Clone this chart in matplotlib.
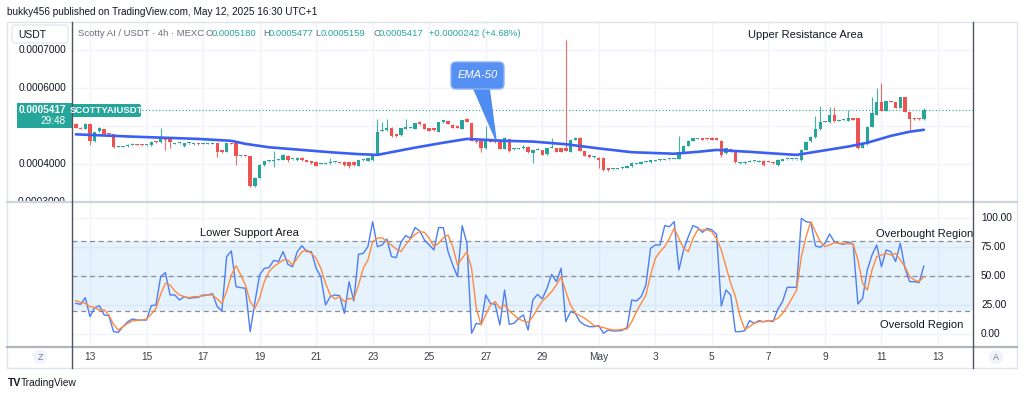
import numpy as np
import matplotlib
matplotlib.use("Agg")
import matplotlib.pyplot as plt
from matplotlib.patches import Rectangle, FancyBboxPatch, Polygon, Circle

plt.rcParams['font.family'] = ['Liberation Sans', 'DejaVu Sans']

W, H = 1024, 397

GREEN = '#26a69a'
RED = '#ef5350'
GRID = '#f0f3fa'
TEXT = '#131722'
MUTED = '#6a6d78'

# 4h candles of SCOTTYAI/USDT, index 0 = Apr 13 00:00
FIRST_CANDLE = -3

opens = [
    0.000506, 0.000496, 0.000492, 0.000506, 0.000461, 0.000486, 0.000492, 0.000480, 0.000478, 0.000445,
    0.000446, 0.000447, 0.000450, 0.000451, 0.000450, 0.000449, 0.000449, 0.000459, 0.000457, 0.000471,
    0.000466, 0.000453, 0.000454, 0.000447, 0.000454, 0.000452, 0.000455, 0.000453, 0.000453, 0.000453,
    0.000455, 0.000436, 0.000432, 0.000455, 0.000454, 0.000420, 0.000421, 0.000420, 0.000341, 0.000364,
    0.000397, 0.000408, 0.000408, 0.000411, 0.000411, 0.000422, 0.000412, 0.000410, 0.000417, 0.000410,
    0.000408, 0.000406, 0.000401, 0.000401, 0.000402, 0.000404, 0.000404, 0.000406, 0.000404, 0.000406,
    0.000396, 0.000410, 0.000408, 0.000410, 0.000424, 0.000488, 0.000489, 0.000496, 0.000478, 0.000475,
    0.000492, 0.000496, 0.000492, 0.000510, 0.000506, 0.000494, 0.000494, 0.000485, 0.000510, 0.000513,
    0.000503, 0.000501, 0.000492, 0.000518, 0.000508, 0.000461, 0.000461, 0.000441, 0.000462, 0.000461,
    0.000461, 0.000440, 0.000466, 0.000439, 0.000440, 0.000441, 0.000446, 0.000428, 0.000437, 0.000437,
    0.000425, 0.000442, 0.000441, 0.000441, 0.000441, 0.000432, 0.000464, 0.000469, 0.000434, 0.000424,
    0.000418, 0.000417, 0.000417, 0.000389, 0.000386, 0.000388, 0.000389, 0.000390, 0.000394, 0.000401,
    0.000401, 0.000405, 0.000404, 0.000409, 0.000410, 0.000411, 0.000412, 0.000413, 0.000413, 0.000432,
    0.000448, 0.000461, 0.000467, 0.000468, 0.000466, 0.000468, 0.000468, 0.000461, 0.000428, 0.000439,
    0.000435, 0.000402, 0.000402, 0.000405, 0.000407, 0.000405, 0.000409, 0.000406, 0.000403, 0.000397,
    0.000409, 0.000412, 0.000412, 0.000412, 0.000410, 0.000438, 0.000460, 0.000470, 0.000491, 0.000511,
    0.000510, 0.000529, 0.000513, 0.000515, 0.000514, 0.000520, 0.000520, 0.000443, 0.000452, 0.000498,
    0.000530, 0.000562, 0.000540, 0.000566, 0.000563, 0.000548, 0.000575, 0.000537, 0.000520, 0.000520,
    0.000518,
]
highs = [
    0.000509, 0.000498, 0.000507, 0.000507, 0.000485, 0.000497, 0.000493, 0.000481, 0.000479, 0.000447,
    0.000448, 0.000452, 0.000454, 0.000452, 0.000451, 0.000451, 0.000460, 0.000460, 0.000494, 0.000472,
    0.000467, 0.000455, 0.000456, 0.000456, 0.000455, 0.000456, 0.000456, 0.000454, 0.000455, 0.000457,
    0.000456, 0.000437, 0.000456, 0.000456, 0.000455, 0.000422, 0.000422, 0.000421, 0.000366, 0.000399,
    0.000409, 0.000410, 0.000434, 0.000414, 0.000426, 0.000424, 0.000414, 0.000418, 0.000418, 0.000411,
    0.000409, 0.000407, 0.000403, 0.000403, 0.000415, 0.000405, 0.000406, 0.000407, 0.000405, 0.000407,
    0.000411, 0.000412, 0.000416, 0.000426, 0.000518, 0.000511, 0.000518, 0.000497, 0.000479, 0.000495,
    0.000518, 0.000498, 0.000509, 0.000512, 0.000507, 0.000495, 0.000495, 0.000511, 0.000516, 0.000514,
    0.000504, 0.000502, 0.000516, 0.000520, 0.000509, 0.000462, 0.000462, 0.000499, 0.000463, 0.000462,
    0.000462, 0.000470, 0.000467, 0.000441, 0.000442, 0.000450, 0.000447, 0.000438, 0.000441, 0.000438,
    0.000442, 0.000469, 0.000442, 0.000442, 0.000726, 0.000465, 0.000470, 0.000470, 0.000435, 0.000425,
    0.000420, 0.000418, 0.000418, 0.000390, 0.000388, 0.000390, 0.000393, 0.000397, 0.000404, 0.000403,
    0.000407, 0.000407, 0.000411, 0.000411, 0.000412, 0.000413, 0.000414, 0.000414, 0.000473, 0.000449,
    0.000462, 0.000469, 0.000469, 0.000469, 0.000467, 0.000472, 0.000469, 0.000462, 0.000442, 0.000440,
    0.000436, 0.000404, 0.000407, 0.000410, 0.000409, 0.000410, 0.000410, 0.000407, 0.000404, 0.000412,
    0.000414, 0.000414, 0.000414, 0.000414, 0.000439, 0.000460, 0.000473, 0.000525, 0.000553, 0.000513,
    0.000551, 0.000549, 0.000515, 0.000517, 0.000542, 0.000521, 0.000521, 0.000454, 0.000499, 0.000576,
    0.000599, 0.000613, 0.000566, 0.000567, 0.000564, 0.000576, 0.000576, 0.000538, 0.000521, 0.000521,
    0.0005477,
]
lows = [
    0.000494, 0.000492, 0.000491, 0.000450, 0.000459, 0.000485, 0.000479, 0.000477, 0.000443, 0.000444,
    0.000445, 0.000446, 0.000449, 0.000449, 0.000448, 0.000448, 0.000448, 0.000456, 0.000455, 0.000437,
    0.000441, 0.000452, 0.000453, 0.000446, 0.000453, 0.000451, 0.000451, 0.000452, 0.000453, 0.000452,
    0.000419, 0.000430, 0.000431, 0.000452, 0.000397, 0.000419, 0.000419, 0.000339, 0.000340, 0.000362,
    0.000395, 0.000406, 0.000393, 0.000410, 0.000410, 0.000404, 0.000411, 0.000409, 0.000409, 0.000405,
    0.000401, 0.000395, 0.000400, 0.000400, 0.000401, 0.000403, 0.000402, 0.000396, 0.000390, 0.000396,
    0.000395, 0.000409, 0.000407, 0.000409, 0.000423, 0.000486, 0.000487, 0.000472, 0.000472, 0.000474,
    0.000491, 0.000495, 0.000491, 0.000503, 0.000491, 0.000486, 0.000488, 0.000484, 0.000509, 0.000505,
    0.000495, 0.000495, 0.000491, 0.000510, 0.000460, 0.000456, 0.000432, 0.000440, 0.000458, 0.000456,
    0.000439, 0.000439, 0.000432, 0.000438, 0.000439, 0.000440, 0.000430, 0.000403, 0.000436, 0.000423,
    0.000424, 0.000441, 0.000431, 0.000431, 0.000433, 0.000431, 0.000463, 0.000433, 0.000421, 0.000417,
    0.000417, 0.000390, 0.000382, 0.000382, 0.000385, 0.000387, 0.000388, 0.000389, 0.000393, 0.000400,
    0.000400, 0.000404, 0.000403, 0.000408, 0.000409, 0.000410, 0.000411, 0.000412, 0.000412, 0.000431,
    0.000447, 0.000460, 0.000466, 0.000463, 0.000464, 0.000463, 0.000462, 0.000419, 0.000427, 0.000431,
    0.000403, 0.000401, 0.000401, 0.000404, 0.000406, 0.000404, 0.000395, 0.000404, 0.000401, 0.000396,
    0.000408, 0.000411, 0.000411, 0.000411, 0.000409, 0.000437, 0.000459, 0.000469, 0.000490, 0.000510,
    0.000509, 0.000511, 0.000512, 0.000514, 0.000513, 0.000515, 0.000440, 0.000442, 0.000451, 0.000497,
    0.000529, 0.000539, 0.000539, 0.000562, 0.000547, 0.000547, 0.000536, 0.000490, 0.000517, 0.000517,
    0.0005159,
]
closes = [
    0.000495, 0.000493, 0.000506, 0.000461, 0.000483, 0.000494, 0.000480, 0.000478, 0.000445, 0.000446,
    0.000447, 0.000450, 0.000451, 0.000450, 0.000449, 0.000450, 0.000459, 0.000458, 0.000469, 0.000462,
    0.000459, 0.000454, 0.000455, 0.000455, 0.000454, 0.000455, 0.000452, 0.000453, 0.000454, 0.000456,
    0.000432, 0.000431, 0.000455, 0.000453, 0.000422, 0.000421, 0.000420, 0.000341, 0.000364, 0.000397,
    0.000408, 0.000409, 0.000411, 0.000413, 0.000424, 0.000410, 0.000413, 0.000417, 0.000410, 0.000406,
    0.000402, 0.000396, 0.000402, 0.000402, 0.000406, 0.000404, 0.000403, 0.000397, 0.000396, 0.000397,
    0.000410, 0.000411, 0.000415, 0.000425, 0.000485, 0.000489, 0.000496, 0.000473, 0.000473, 0.000494,
    0.000497, 0.000497, 0.000508, 0.000504, 0.000492, 0.000487, 0.000489, 0.000510, 0.000515, 0.000506,
    0.000496, 0.000496, 0.000515, 0.000511, 0.000461, 0.000457, 0.000441, 0.000462, 0.000459, 0.000457,
    0.000440, 0.000468, 0.000434, 0.000440, 0.000441, 0.000446, 0.000431, 0.000437, 0.000440, 0.000424,
    0.000441, 0.000443, 0.000432, 0.000432, 0.000434, 0.000464, 0.000469, 0.000434, 0.000422, 0.000418,
    0.000419, 0.000410, 0.000383, 0.000383, 0.000387, 0.000389, 0.000392, 0.000396, 0.000403, 0.000402,
    0.000406, 0.000406, 0.000410, 0.000410, 0.000411, 0.000412, 0.000413, 0.000413, 0.000432, 0.000448,
    0.000461, 0.000468, 0.000468, 0.000464, 0.000465, 0.000464, 0.000463, 0.000424, 0.000441, 0.000432,
    0.000404, 0.000403, 0.000406, 0.000409, 0.000408, 0.000409, 0.000397, 0.000405, 0.000402, 0.000411,
    0.000413, 0.000413, 0.000413, 0.000413, 0.000438, 0.000459, 0.000472, 0.000491, 0.000511, 0.000512,
    0.000529, 0.000512, 0.000514, 0.000516, 0.000520, 0.000516, 0.000441, 0.000452, 0.000498, 0.000535,
    0.000562, 0.000540, 0.000565, 0.000563, 0.000548, 0.000575, 0.000537, 0.000518, 0.000518, 0.000518,
    0.0005417,
]

# EMA-50 read at a few candles along the line
ema_idx = [-3, 9, 23, 30, 33, 38, 45, 52, 57, 61, 69, 75, 80, 88, 94, 101, 108, 115,
           124, 129, 133, 140, 146, 150, 154, 161, 165, 170, 174, 177]
ema_vals = [0.000478, 0.000472, 0.000466, 0.000461, 0.000453, 0.000444, 0.000437, 0.000430,
            0.000426, 0.000424, 0.000443, 0.000456, 0.000466, 0.000461, 0.000459, 0.000452,
            0.000441, 0.000431, 0.000427, 0.000432, 0.000437, 0.000432, 0.000427, 0.000424,
            0.000432, 0.000446, 0.000456, 0.000474, 0.000485, 0.000490]

stoch_k = [
    26.4, 25.6, 31.3, 15.0, 22.7, 24.4, 16.4, 15.8, 2.0, 1.4,
    6.3, 10.6, 12.9, 12.0, 12.0, 12.0, 24.4, 25.0, 49.4, 52.9,
    33.6, 33.6, 29.3, 32.2, 30.7, 31.3, 31.6, 33.6, 33.6, 34.8,
    23.6, 19.8, 66.7, 71.6, 40.8, 39.9, 39.4, 2.0, 27.3, 50.9,
    56.6, 57.2, 63.5, 62.4, 71.0, 60.0, 58.0, 71.0, 76.1, 71.0,
    71.0, 56.6, 49.4, 25.0, 32.2, 33.6, 33.0, 17.8, 45.1, 28.4,
    68.7, 69.5, 75.3, 96.8, 75.3, 76.7, 81.9, 66.7, 65.8, 79.0,
    84.8, 82.5, 91.7, 88.8, 81.0, 76.7, 72.4, 91.7, 91.7, 71.0,
    59.5, 49.4, 93.4, 78.2, 0.6, 9.2, 8.3, 33.6, 26.4, 25.6,
    7.8, 37.9, 8.3, 9.2, 13.5, 16.4, 3.4, 29.3, 34.2, 30.2,
    39.4, 51.4, 45.1, 56.6, 10.6, 19.3, 17.8, 10.6, 7.8, 6.3,
    6.3, 7.2, 0.6, 3.4, 2.6, 2.6, 3.2, 5.5, 29.3, 28.4,
    32.2, 42.2, 73.9, 76.7, 76.7, 93.4, 92.5, 96.8, 55.2, 72.4,
    83.9, 93.4, 91.7, 87.6, 91.1, 89.7, 86.0, 24.1, 37.9, 33.6,
    2.0, 2.0, 2.9, 11.5, 9.2, 11.5, 10.6, 11.5, 10.6, 21.3,
    27.9, 40.2, 40.2, 40.2, 99.7, 96.8, 96.0, 75.9, 74.7, 78.2,
    86.2, 79.3, 78.0, 77.3, 79.3, 77.3, 25.9, 30.7, 55.2, 68.1,
    76.7, 58.0, 72.4, 71.0, 62.4, 78.2, 56.6, 45.1, 45.1, 44.3,
    58.6,
]
stoch_d = [
    28.7, 27.3, 26.4, 23.6, 22.7, 20.7, 20.7, 16.4, 8.3, 3.4,
    6.3, 9.2, 11.2, 11.8, 12.0, 12.9, 17.0, 22.1, 34.2, 43.7,
    42.2, 37.1, 33.6, 32.2, 31.3, 32.2, 32.2, 32.8, 33.6, 33.6,
    30.2, 26.4, 36.5, 50.9, 58.9, 50.9, 42.2, 27.9, 22.1, 30.7,
    45.1, 53.7, 58.0, 60.9, 63.8, 63.8, 59.5, 65.2, 71.0, 72.4,
    69.5, 65.2, 56.6, 43.7, 33.6, 30.2, 32.2, 27.9, 30.7, 30.2,
    42.2, 56.6, 63.8, 79.6, 82.5, 83.0, 79.6, 76.7, 73.3, 71.0,
    76.7, 81.9, 85.9, 88.2, 87.6, 82.5, 75.3, 78.2, 83.0, 85.3,
    75.3, 59.5, 65.2, 71.0, 56.6, 22.1, 7.8, 16.4, 25.0, 27.9,
    22.1, 25.0, 19.8, 16.4, 12.9, 11.2, 10.1, 14.9, 22.1, 28.4,
    32.2, 36.5, 42.2, 49.4, 36.5, 25.0, 17.8, 15.8, 13.5, 10.6,
    7.2, 6.3, 5.5, 4.3, 3.4, 3.4, 4.0, 4.3, 10.6, 19.3,
    26.4, 33.6, 50.9, 65.2, 71.0, 75.3, 82.5, 91.1, 82.5, 73.9,
    71.0, 82.5, 89.7, 89.7, 89.7, 88.2, 82.0, 72.4, 58.0, 43.7,
    32.2, 14.9, 4.0, 6.3, 9.2, 10.6, 10.6, 11.5, 11.5, 13.5,
    17.8, 23.6, 30.7, 37.9, 66.7, 83.9, 96.8, 88.2, 79.6, 75.3,
    76.7, 78.7, 78.2, 78.2, 77.6, 77.6, 63.8, 43.7, 37.9, 55.2,
    66.7, 68.1, 69.5, 68.1, 69.5, 63.8, 58.0, 49.4, 46.6, 45.1,
    49.4,
]

day_labels = ["13", "15", "17", "19", "21", "23", "25", "27", "29", "May",
              "3", "5", "7", "9", "11", "13"]
price_ticks = [0.0003, 0.0004, 0.0005, 0.0006, 0.0007]
price_labels = ["0.0003000", "0.0004000", "", "0.0006000", "0.0007000"]  # 0.0005 sits under the price tag
stoch_ticks = [0, 25, 50, 75, 100]


def px_axes(x0, y0, x1, y1):
    # axes placed by pixel box, origin top-left
    return fig.add_axes([x0 / W, 1 - y1 / H, (x1 - x0) / W, (y1 - y0) / H])


def px_to_candle(px):
    return (px - 90) / 4.711


fig = plt.figure(figsize=(W / 100, H / 100), dpi=100, facecolor='white')

xlim = (px_to_candle(72), px_to_candle(973))
day_pos = [12 * i for i in range(len(day_labels))]

# ---- price panel ----
ax_p = px_axes(72, 22, 973, 201)
ax_p.set_xlim(*xlim)
ax_p.set_ylim(0.0003026, 0.0007737)
ax_p.axis('off')
for pos in day_pos:
    ax_p.axvline(pos, color=GRID, lw=1, zorder=0)
for p in price_ticks:
    ax_p.axhline(p, color=GRID, lw=1, zorder=0)

x = np.arange(len(opens)) + FIRST_CANDLE
o, h, l, c = (np.array(v) for v in (opens, highs, lows, closes))
colors = np.where(c >= o, GREEN, RED)
ax_p.vlines(x, l, h, colors=colors, lw=0.8, alpha=0.85, zorder=2)
ax_p.bar(x, np.maximum(np.abs(c - o), 2.6e-6), bottom=np.minimum(o, c), width=0.72,
         color=colors, linewidth=0, zorder=3)
ax_p.plot(ema_idx, ema_vals, color='#3a5ff2', lw=1.9, zorder=4, solid_capstyle='round')
ax_p.axhline(closes[-1], color=GREEN, lw=0.8, ls=(0, (1, 2)), zorder=1)

# left price labels (clipped to the panel like the original)
ax_l = px_axes(7, 22, 72, 201)
ax_l.set_xlim(0, 65)
ax_l.set_ylim(0.0003026, 0.0007737)
ax_l.axis('off')
for p, lab in zip(price_ticks, price_labels):
    if lab:
        ax_l.text(59, p, lab, ha='right', va='center', fontsize=7.3, color=TEXT, clip_on=True)

# ---- stochastic panel ----
ax_s = px_axes(72, 203, 973, 345)
ax_s.set_xlim(*xlim)
ax_s.set_ylim(-9.5, 112.9)
ax_s.axis('off')
for pos in day_pos:
    ax_s.axvline(pos, color=GRID, lw=1, zorder=0)
for v in stoch_ticks:
    ax_s.axhline(v, color=GRID, lw=1, zorder=0)
ax_s.axhspan(20, 80, color='#2196f3', alpha=0.11, lw=0, zorder=1)
for v in (80, 50, 20):
    ax_s.axhline(v, color='#8a8d96', lw=0.9, ls=(0, (4, 3)), zorder=2)
xs = np.arange(len(stoch_k)) + FIRST_CANDLE
ax_s.plot(xs, stoch_k, color='#4d7ef5', lw=1.0, zorder=3)
ax_s.plot(xs, stoch_d, color='#ff8a3c', lw=1.0, zorder=4)

ax_r = px_axes(973, 203, 1017, 345)
ax_r.set_xlim(0, 44)
ax_r.set_ylim(-9.5, 112.9)
ax_r.axis('off')
for v in stoch_ticks:
    ax_r.text(8, v, f"{v:.2f}", ha='left', va='center', fontsize=7.3, color=TEXT)

# ---- time axis ----
ax_t = px_axes(72, 347, 973, 368)
ax_t.set_xlim(*xlim)
ax_t.set_ylim(0, 1)
ax_t.axis('off')
for pos, lab in zip(day_pos, day_labels):
    ax_t.text(pos, 0.5, lab, ha='center', va='center', fontsize=7.3, color='#3c3f48')

# ---- overlay in pixel coordinates: frame, tags, notes ----
ov = fig.add_axes([0, 0, 1, 1], zorder=10)
ov.set_xlim(0, W)
ov.set_ylim(H, 0)
ov.axis('off')
ov.patch.set_alpha(0)

ov.add_patch(Rectangle((7, 22), 1010, 346, fill=False, ec='#e0e3eb', lw=1))
ov.plot([7, 1017], [202, 202], color='#d1d4dc', lw=1.6)
ov.plot([7, 1017], [346.5, 346.5], color='#b2b5be', lw=1.6)
ov.plot([72, 72], [22, 368], color='#50535e', lw=1)
ov.plot([973, 973], [22, 368], color='#50535e', lw=1)

ov.text(7, 12, "bukky456 published on TradingView.com, May 12, 2025 16:30 UTC+1",
        fontsize=7.2, color=TEXT, va='center')

ov.add_patch(FancyBboxPatch((12, 25), 56, 18, boxstyle="round,pad=0,rounding_size=3",
                            fc='white', ec='#e0e3eb', lw=0.8))
ov.text(18, 34.5, "USDT", fontsize=7.5, color=TEXT, va='center')

ov.text(78, 34, "Scotty AI / USDT · 4h · MEXC", fontsize=6.8, color=MUTED, va='center')
for lx, letter, val in [(206, "O", "0.0005180"), (263, "H", "0.0005477"),
                        (315, "L", "0.0005159"), (373, "C", "0.0005417")]:
    ov.text(lx, 34, letter, fontsize=6.8, color=MUTED, va='center')
    ov.text(lx + 5.5, 34, val, fontsize=6.8, color=GREEN, va='center')
ov.text(429, 34, "+0.0000242 (+4.68%)", fontsize=6.8, color=GREEN, va='center')

# last price tag
ov.add_patch(Rectangle((17, 103), 55, 25, fc=GREEN, ec='none'))
ov.text(66, 110, "0.0005417", ha='right', va='center', fontsize=7.2, color='white', weight='bold')
ov.text(66, 121, "29:48", ha='right', va='center', fontsize=7.2, color='white')
ov.add_patch(FancyBboxPatch((72, 104), 69, 13, boxstyle="round,pad=0,rounding_size=2",
                            fc=GREEN, ec='none'))
ov.text(106.5, 110.5, "SCOTTYAIUSDT", ha='center', va='center', fontsize=6.8, color='white',
        weight='bold')

# EMA-50 callout
ov.add_patch(Polygon([(473, 87), (489, 87), (496, 140)], closed=True, fc='#4f8cf2', ec='#4f8cf2'))
ov.add_patch(FancyBboxPatch((451, 62), 53, 27, boxstyle="round,pad=0,rounding_size=5",
                            fc='#5690f2', ec='#8db4f7', lw=1))
ov.text(477.5, 75.5, "EMA-50", ha='center', va='center', fontsize=8, color='white', style='italic')

ov.text(806, 35, "Upper Resistance Area", ha='center', va='center', fontsize=8, color=TEXT)
ov.text(249, 233, "Lower Support Area", ha='center', va='center', fontsize=8, color=TEXT)
ov.text(925, 234, "Overbought Region", ha='center', va='center', fontsize=8, color=TEXT)
ov.text(922, 325, "Oversold Region", ha='center', va='center', fontsize=8, color=TEXT)

for cx, lab in [(40, "Z"), (996, "A")]:
    ov.add_patch(Circle((cx, 357), 7, fc='#f0f3fa', ec='none'))
    ov.text(cx, 357.5, lab, ha='center', va='center', fontsize=6.3, color='#787b86')

ov.text(8, 383, "TV", fontsize=7.5, color=TEXT, va='center', weight='heavy')
ov.text(21, 383, "TradingView", fontsize=7.3, color=TEXT, va='center')

fig.savefig("out.png", dpi=100, facecolor='white')
